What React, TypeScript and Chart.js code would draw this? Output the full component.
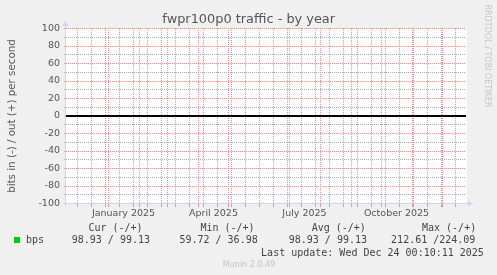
import React, { useEffect, useRef } from 'react';
import { Chart, registerables } from 'chart.js';

Chart.register(...registerables);

// ---- Text ----
const TITLE = 'fwpr100p0 traffic - by year';
const Y_TITLE = 'bits in (-) / out (+) per second';
const SIDE_TEXT = 'RRDTOOL / TOBI OETIKER';
const FOOTER = 'Munin 2.0.49';
const LAST_UPDATE = 'Last update: Wed Dec 24 00:10:11 2025';

// ---- X axis (time, in days from range start) ----
const RANGE_START = '2024-11-19T12:00:00Z';
const RANGE_DAYS = 400;
const MONTH_LINES = [
  '2024-12-01', '2025-01-01', '2025-02-01', '2025-03-01', '2025-04-01', '2025-05-01',
  '2025-06-01', '2025-07-01', '2025-08-01', '2025-09-01', '2025-10-01', '2025-11-01', '2025-12-01',
];
const MINOR_FIRST = '2024-12-15';
const MINOR_STEP_DAYS = 14;
const QUARTER_LABELS = ['January 2025', 'April 2025', 'July 2025', 'October 2025'];
const QUARTER_LABEL_AT = ['2025-01-16', '2025-04-16', '2025-07-16', '2025-10-16'];

// ---- Y axis ----
const Y_MIN = -100;
const Y_MAX = 100;
const Y_MINOR_STEP = 10;
const Y_LABEL_STEP = 20;

// ---- Series ----
const ZERO_RULE = [0, 0]; // HRULE at 0 across the whole range
const SERIES_NAME = 'bps';
const SERIES_COLOR = '#00cc00';
const STAT_HEADERS = ['Cur (-/+)', 'Min (-/+)', 'Avg (-/+)', 'Max (-/+)'];
const BPS_IN = [98.93, 59.72, 98.93, 212.61];
const BPS_OUT = [99.13, 36.98, 99.13, 224.09];

// ---- Colors ----
const BG = '#f0f0f0';
const AXIS = '#cfd6f8';
const MAJOR = '#eb9696';
const MINOR = '#ababab';
const FONT_COLOR = '#555555';

const DAY = 86400000;
const startMs = Date.parse(RANGE_START);
const dayOf = (d: string) => (Date.parse(d + 'T00:00:00Z') - startMs) / DAY;

const MAJOR_DAYS = MONTH_LINES.map(dayOf);
const MINOR_DAYS: number[] = [];
for (let v = dayOf(MINOR_FIRST); v < RANGE_DAYS; v += MINOR_STEP_DAYS) MINOR_DAYS.push(v);
const LABEL_DAYS = QUARTER_LABEL_AT.map(dayOf);
const labelFor = (v: number) => {
  const i = LABEL_DAYS.findIndex((d) => Math.abs(d - v) < 1e-6);
  return i >= 0 ? QUARTER_LABELS[i] : '';
};

const Y_TICKS: number[] = [];
for (let v = Y_MIN; v <= Y_MAX; v += Y_MINOR_STEP) Y_TICKS.push(v);

const pad6 = (v: number) => v.toFixed(2).padStart(6, ' ');

const decor = {
  id: 'decor',
  beforeDraw(chart: any) {
    const { ctx, chartArea: a } = chart;
    ctx.save();
    ctx.fillStyle = BG;
    ctx.fillRect(0, 0, chart.width, chart.height);
    ctx.fillStyle = '#ffffff';
    ctx.fillRect(a.left, Math.floor(a.top), a.right - a.left + 1, Math.ceil(a.bottom) - Math.floor(a.top));
    ctx.restore();
  },
  beforeDatasetsDraw(chart: any) {
    const { ctx, chartArea: a } = chart;
    const xs = chart.scales.x;
    const top = Math.floor(a.top);
    const bottom = Math.floor(a.bottom);
    ctx.save();
    ctx.lineWidth = 1;
    const drawSet = (days: number[], color: string) => {
      ctx.strokeStyle = color;
      days.forEach((d) => {
        const px = Math.floor(xs.getPixelForValue(d)) + 0.5;
        ctx.setLineDash([1, 1]);
        ctx.beginPath();
        ctx.moveTo(px, top);
        ctx.lineTo(px, bottom);
        ctx.stroke();
        ctx.setLineDash([]);
        ctx.beginPath();
        ctx.moveTo(px, bottom + 1);
        ctx.lineTo(px, bottom + 4);
        ctx.stroke();
      });
    };
    drawSet(MINOR_DAYS, MINOR);
    drawSet(MAJOR_DAYS, MAJOR);
    ctx.restore();
  },
  afterDraw(chart: any) {
    const { ctx, chartArea: a } = chart;
    ctx.save();
    // axes
    ctx.strokeStyle = AXIS;
    ctx.fillStyle = AXIS;
    ctx.lineWidth = 1;
    const ax = a.left - 0.5;
    const ay = a.bottom;
    ctx.beginPath();
    ctx.moveTo(ax, a.top - 3);
    ctx.lineTo(ax, ay + 3);
    ctx.moveTo(a.left - 3, ay);
    ctx.lineTo(a.right + 2, ay);
    ctx.stroke();
    ctx.beginPath();
    ctx.moveTo(ax, a.top - 7.5);
    ctx.lineTo(ax - 3, a.top - 2.5);
    ctx.lineTo(ax + 3, a.top - 2.5);
    ctx.closePath();
    ctx.fill();
    ctx.beginPath();
    ctx.moveTo(a.right + 7, ay);
    ctx.lineTo(a.right + 2, ay - 3);
    ctx.lineTo(a.right + 2, ay + 3);
    ctx.closePath();
    ctx.fill();

    // title
    ctx.fillStyle = FONT_COLOR;
    ctx.font = '12.9px "DejaVu Sans"';
    ctx.textAlign = 'center';
    ctx.textBaseline = 'alphabetic';
    ctx.fillText(TITLE, 248.7, 22.5);

    // y title
    ctx.save();
    ctx.translate(14.5, 116);
    ctx.rotate(-Math.PI / 2);
    ctx.font = '10.3px "DejaVu Sans"';
    ctx.textAlign = 'center';
    ctx.fillText(Y_TITLE, 0, 0);
    ctx.restore();

    // side text
    ctx.save();
    ctx.translate(485, 56);
    ctx.rotate(Math.PI / 2);
    ctx.font = '8px "DejaVu Sans"';
    ctx.fillStyle = '#c4c4c4';
    ctx.textAlign = 'center';
    ctx.fillText(SIDE_TEXT, 0, 0);
    ctx.restore();

    // legend
    ctx.font = '10px "DejaVu Sans Mono"';
    ctx.textAlign = 'left';
    ctx.fillStyle = '#444444';
    const headerX = [88.4, 200.4, 311.7, 422];
    const valueX = [65.7, 173.4, 282.7, 391.1];
    STAT_HEADERS.forEach((h, i) => ctx.fillText(h, headerX[i], 230.5));
    ctx.fillText(SERIES_NAME, 26, 243);
    BPS_IN.forEach((v, i) => ctx.fillText(pad6(v) + ' /' + pad6(BPS_OUT[i]), valueX[i], 243));
    ctx.fillText(LAST_UPDATE, 261.1, 255.5);
    ctx.fillStyle = SERIES_COLOR;
    ctx.fillRect(14, 237, 6, 6);

    ctx.font = '8px "DejaVu Sans"';
    ctx.fillStyle = '#c4c4c4';
    ctx.textAlign = 'center';
    ctx.fillText(FOOTER, 249, 266.5);
    ctx.restore();
  },
};

export default function App() {
  const ref = useRef<HTMLCanvasElement | null>(null);
  useEffect(() => {
    if (!ref.current) return;
    const chart = new Chart(ref.current, {
      type: 'line',
      data: {
        datasets: [
          {
            label: 'zero',
            data: [
              { x: 0, y: ZERO_RULE[0] },
              { x: RANGE_DAYS, y: ZERO_RULE[1] },
            ],
            borderColor: '#000000',
            borderWidth: 2,
            pointRadius: 0,
            fill: false,
          },
        ],
      },
      options: {
        animation: false,
        responsive: false,
        devicePixelRatio: 1,
        events: [],
        layout: { padding: { left: 0, top: 28.5, right: 31, bottom: 0 } },
        plugins: { legend: { display: false }, tooltip: { enabled: false }, title: { display: false } },
        scales: {
          x: {
            type: 'linear',
            min: 0,
            max: RANGE_DAYS,
            afterBuildTicks: (s: any) => {
              s.ticks = LABEL_DAYS.map((v) => ({ value: v }));
            },
            afterFit: (s: any) => {
              s.height = 71.5;
            },
            border: { display: false },
            grid: { display: true, drawOnChartArea: false, drawTicks: true, tickLength: 3, tickColor: 'rgba(0,0,0,0)', color: 'rgba(0,0,0,0)' },
            ticks: {
              autoSkip: false,
              maxRotation: 0,
              minRotation: 0,
              padding: 1,
              color: FONT_COLOR,
              font: { family: 'DejaVu Sans', size: 9.5 },
              callback: (v: any) => labelFor(Number(v)),
            },
          },
          y: {
            type: 'linear',
            min: Y_MIN,
            max: Y_MAX,
            afterBuildTicks: (s: any) => {
              s.ticks = Y_TICKS.map((v) => ({ value: v }));
            },
            afterFit: (s: any) => {
              s.width = 66;
            },
            border: { display: false, dash: [1, 1] },
            grid: {
              color: (c: any) => (c.tick && c.tick.value % Y_LABEL_STEP === 0 ? MAJOR : MINOR),
              tickColor: (c: any) => (c.tick && c.tick.value % Y_LABEL_STEP === 0 ? MAJOR : MINOR),
              lineWidth: 1,
              tickLength: 2,
            },
            ticks: {
              autoSkip: false,
              padding: 4,
              color: FONT_COLOR,
              font: { family: 'DejaVu Sans', size: 9.5 },
              callback: (v: any) => (Number(v) % Y_LABEL_STEP === 0 ? String(v) : ''),
            },
          },
        },
      },
      plugins: [decor],
    } as any);
    return () => chart.destroy();
  }, []);
  return (
    <div style={{ position: 'fixed', left: 0, top: 0, width: 497, height: 275, background: BG }}>
      <canvas ref={ref} width={497} height={275} style={{ display: 'block', width: 497, height: 275 }} />
    </div>
  );
}
